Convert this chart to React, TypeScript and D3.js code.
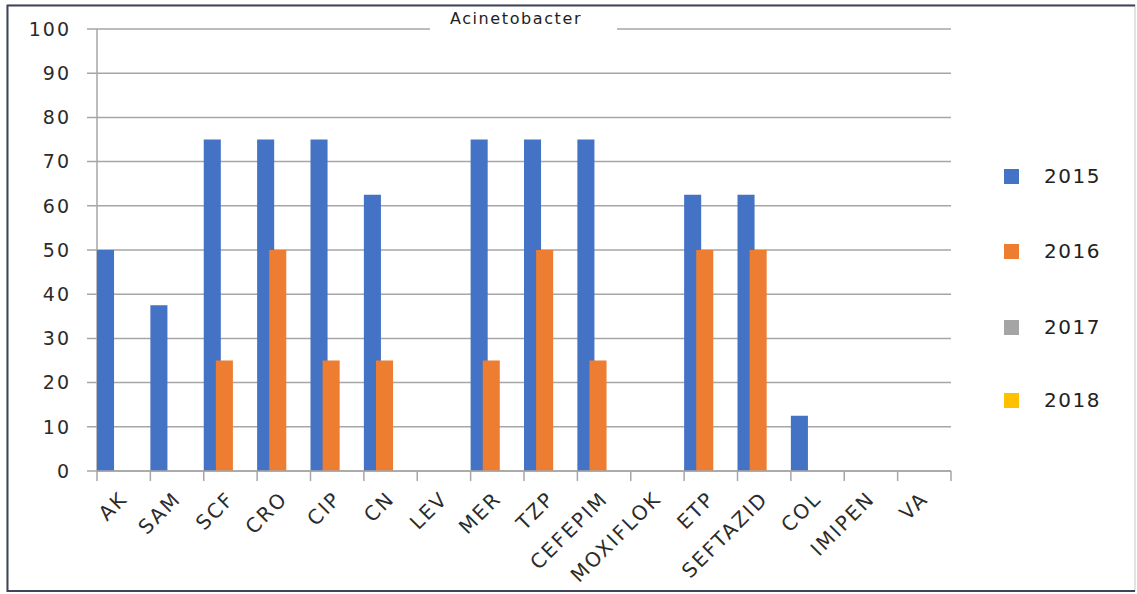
import React from "react";
import * as d3 from "d3";

const categories = ["AK", "SAM", "SCF", "CRO", "CIP", "CN", "LEV", "MER", "TZP", "CEFEPIM", "MOXIFLOK", "ETP", "SEFTAZID", "COL", "IMIPEN", "VA"];
const seriesNames = ["2015", "2016", "2017", "2018"];
const values2015 = [50, 37.5, 75, 75, 75, 62.5, 0, 75, 75, 75, 0, 62.5, 62.5, 12.5, 0, 0];
const values2016 = [0, 0, 25, 50, 25, 25, 0, 25, 50, 25, 0, 50, 50, 0, 0, 0];
const values2017 = [0, 0, 0, 0, 0, 0, 0, 0, 0, 0, 0, 0, 0, 0, 0, 0];
const values2018 = [0, 0, 0, 0, 0, 0, 0, 0, 0, 0, 0, 0, 0, 0, 0, 0];
const yTicks = [0, 10, 20, 30, 40, 50, 60, 70, 80, 90, 100];
const colors = ["#4472c4", "#ed7d31", "#a5a5a5", "#ffc000"];

const W = 1137;
const H = 594;
const plot = { left: 97, right: 951, top: 29, bottom: 471 };
const FONT = "'DejaVu Sans', Verdana, sans-serif";
const TEXT = "#2b2b2b";

export default function App() {
  const series = [values2015, values2016, values2017, values2018];
  const x = d3.scaleBand<string>().domain(categories).range([plot.left, plot.right]).padding(0);
  const y = d3.scaleLinear().domain([0, 100]).range([plot.bottom, plot.top]);
  const band = x.bandwidth();
  const overlap = 0.29;
  const barW = band / (series.length - (series.length - 1) * overlap);
  const step = barW * (1 - overlap);
  const legendY = [176, 251, 327, 400];
  const gridColor = "#a6a6a6";

  return (
    <svg width={W} height={H} style={{ position: "absolute", left: 0, top: 0, background: "#fff" }}>
      {/* outer frame */}
      <rect x={7} y={5} width={1128} height={586} fill="#fff" stroke="#c8c8c8" strokeWidth={1} />
      <line x1={7} x2={1135} y1={5.5} y2={5.5} stroke="#3e4556" strokeWidth={2} />
      <line x1={7} x2={1135} y1={591} y2={591} stroke="#3e4556" strokeWidth={2} />
      <line x1={7.5} x2={7.5} y1={5} y2={592} stroke="#3e4556" strokeWidth={2} />

      {/* gridlines */}
      {yTicks.map((t) => (
        <line key={t} x1={plot.left - 10} x2={plot.right} y1={y(t)} y2={y(t)} stroke={gridColor} strokeWidth={1.5} />
      ))}
      {/* y axis */}
      <line x1={plot.left} x2={plot.left} y1={plot.top} y2={plot.bottom} stroke={gridColor} strokeWidth={1.5} />
      {yTicks.map((t) => (
        <text key={t} x={71} y={y(t)} dy="0.36em" textAnchor="end" fontFamily={FONT} fontSize={19} letterSpacing={2} fill={TEXT}>
          {t}
        </text>
      ))}

      {/* bars */}
      {series.map((vals, si) =>
        categories.map((c, ci) =>
          vals[ci] > 0 ? (
            <rect
              key={`${si}-${c}`}
              x={(x(c) as number) + si * step}
              y={y(vals[ci])}
              width={barW}
              height={y(0) - y(vals[ci])}
              fill={colors[si]}
            />
          ) : null
        )
      )}

      {/* x axis */}
      <line x1={plot.left} x2={plot.right} y1={plot.bottom} y2={plot.bottom} stroke={gridColor} strokeWidth={1.5} />
      {categories.map((c) => (
        <line key={c} x1={x(c) as number} x2={x(c) as number} y1={plot.bottom} y2={plot.bottom + 10} stroke={gridColor} strokeWidth={1.5} />
      ))}
      <line x1={plot.right} x2={plot.right} y1={plot.bottom} y2={plot.bottom + 10} stroke={gridColor} strokeWidth={1.5} />
      {categories.map((c) => {
        const cx = (x(c) as number) + band / 2 - 2;
        const cy = plot.bottom + 22;
        return (
          <text
            key={c}
            transform={`translate(${cx},${cy}) rotate(-45)`}
            textAnchor="end"
            dy="0.5em"
            fontFamily={FONT}
            fontSize={20}
            letterSpacing={2}
            fill={TEXT}
          >
            {c}
          </text>
        );
      })}

      {/* title */}
      <rect x={430} y={10} width={187} height={24} fill="#fff" />
      <text x={516} y={24} textAnchor="middle" fontFamily={FONT} fontSize={16} letterSpacing={1.6} fill="#222">
        Acinetobacter
      </text>

      {/* legend */}
      {seriesNames.map((s, i) => (
        <g key={s}>
          <rect x={1004} y={legendY[i] - 7} width={15} height={15} fill={colors[i]} />
          <text x={1044} y={legendY[i]} dy="0.36em" fontFamily={FONT} fontSize={20} letterSpacing={1.5} fill="#222">
            {s}
          </text>
        </g>
      ))}
    </svg>
  );
}
